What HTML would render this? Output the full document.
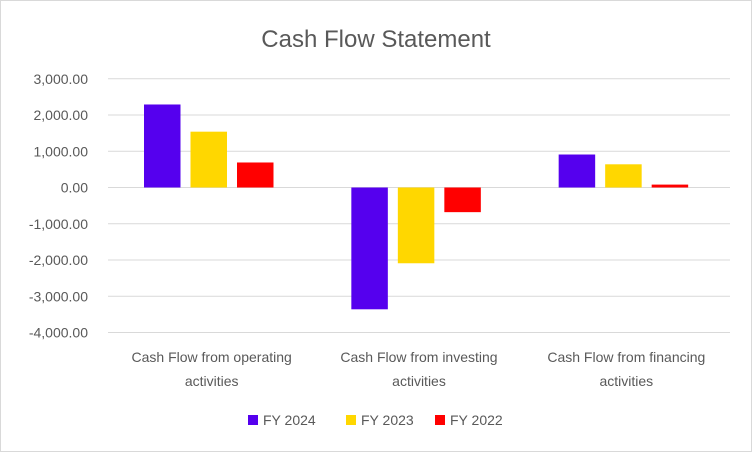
<!DOCTYPE html>
<html><head><meta charset="utf-8"><style>
body{margin:0;background:#fff;font-family:"Liberation Sans",sans-serif}
#wrap{position:relative;width:750px;height:450px;border:1px solid #d9d9d9;background:#fff}
</style></head><body>
<div id="wrap">
<svg id="c" width="750" height="450"></svg>
</div>
<script>
const categories=[["Cash Flow from operating","activities"],["Cash Flow from investing","activities"],["Cash Flow from financing","activities"]];
const seriesNames=["FY 2024","FY 2023","FY 2022"];
const fy2024=[2290,-3360,910];
const fy2023=[1540,-2090,640];
const fy2022=[690,-680,80];
const ticks=[3000,2000,1000,0,-1000,-2000,-3000,-4000];
const tickLabels=["3,000.00","2,000.00","1,000.00","0.00","-1,000.00","-2,000.00","-3,000.00","-4,000.00"];
const colors=["#5500EE","#FFD700","#FF0000"];
const NS="http://www.w3.org/2000/svg";
const svg=document.getElementById('c');
function el(t,a,p){const e=document.createElementNS(NS,t);for(const k in a)e.setAttribute(k,a[k]);(p||svg).appendChild(e);return e;}
const x0=107,x1=729;
function y(v){return 186.5-v*0.03625;}
const gw=(x1-x0)/3;
function bx(ci,si){return x0+gw*ci+36+si*46.5;}
let t=el('text',{x:375,y:46,'text-anchor':'middle','font-size':24,fill:'#595959'});t.textContent="Cash Flow Statement";


ticks.forEach((v,i)=>{
 const g=el('line',{x1:x0,x2:x1,y1:y(v),y2:y(v),stroke:'#d9d9d9','stroke-width':1});
 
 
 const l=el('text',{x:87,y:y(v)+5,'text-anchor':'end','font-size':14,fill:'#595959'});l.textContent=tickLabels[i];
 
 
});
const series=[fy2024,fy2023,fy2022];
series.forEach((s,si)=>s.forEach((v,ci)=>{
 const r=el('rect',{x:bx(ci,si),y:Math.min(y(v),y(0)),width:36.5,height:Math.abs(y(v)-y(0)),fill:colors[si]});
 
 
}));
categories.forEach((c,ci)=>{
 c.forEach((line,li)=>{
  const tx=el('text',{x:x0+gw*(ci+0.5),y:361+li*24,'text-anchor':'middle','font-size':14,fill:'#595959'});tx.textContent=line;
  
  
 });
});
const lx=[247,345,434];
seriesNames.forEach((n,i)=>{
 const r=el('rect',{x:lx[i],y:414,width:10,height:10,fill:colors[i]});
 
 
 const tx=el('text',{x:lx[i]+15,y:424,'font-size':14,fill:'#595959'});tx.textContent=n;
 
 
});
</script>
</body></html>
